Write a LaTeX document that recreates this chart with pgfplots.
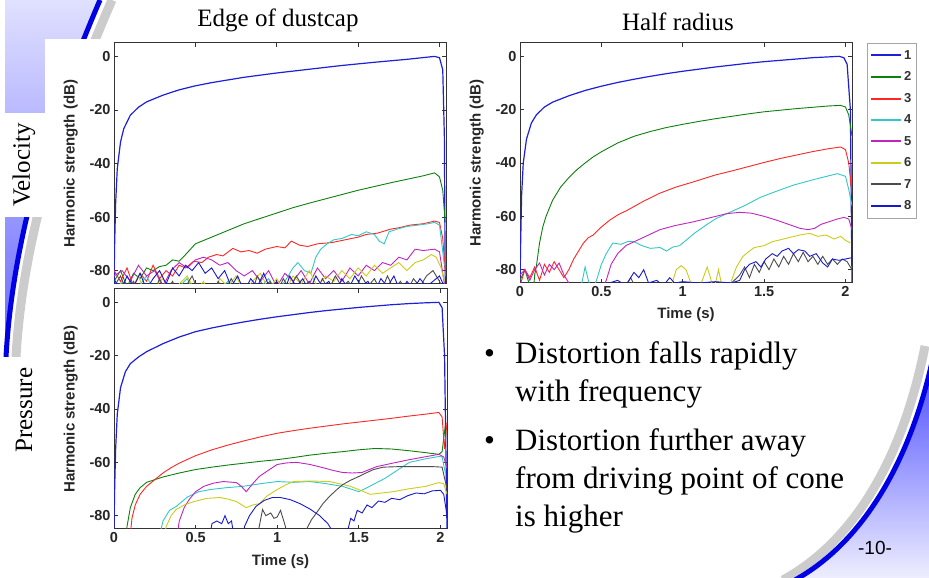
\documentclass[border=0pt]{standalone}
\usepackage{fontspec}
\setmainfont{Liberation Serif}
\setsansfont{Liberation Sans}
\usepackage{pgfplots}
\pgfplotsset{compat=1.18}

\definecolor{c1}{rgb}{0.12,0.12,0.85}
\definecolor{c2}{rgb}{0.05,0.5,0.05}
\definecolor{c3}{rgb}{1,0.15,0.15}
\definecolor{c4}{rgb}{0.2,0.78,0.78}
\definecolor{c5}{rgb}{0.75,0.15,0.75}
\definecolor{c6}{rgb}{0.8,0.8,0.1}
\definecolor{c7}{rgb}{0.3,0.3,0.3}
\definecolor{c8}{rgb}{0.1,0.1,0.8}

\newcommand{\labfont}{\sffamily\bfseries\fontsize{15}{15}\selectfont}

\pgfplotsset{
  matlab/.style={
    scale only axis, anchor=south west,
    xmin=0, xmax=2.04, ymin=-85, ymax=5,
    xtick={0,0.5,1,1.5,2}, ytick={-80,-60,-40,-20,0},
    tick align=inside, tick pos=both, major tick length=4pt,
    axis line style={line width=1pt, black!80},
    every tick/.style={black!80, line width=0.8pt},
    /pgf/number format/assume math mode=true,
    tick label style={font=\sffamily\bfseries\fontsize{14.5}{14.5}\selectfont, black!85},
    ylabel={Harmonic strength (dB)},
    every axis y label/.style={at={(axis description cs:-0.13,0.5)}, rotate=90, anchor=center, font=\labfont, black!85},
    every axis x label/.style={at={(axis description cs:0.5,-0.135)}, anchor=center, font=\labfont, black!85},
    every axis plot/.append style={line width=0.9pt},
  }
}

\begin{document}
\begin{tikzpicture}
\path[use as bounding box] (0pt,0pt) rectangle (929pt,578pt);
\clip (0pt,0pt) rectangle (929pt,578pt);

% slide background and decorations
\begin{scope}[x=1pt,y=1pt]
\fill[white] (0,0) rectangle (929,578);
\shade[top color=blue!12, bottom color=blue!60] (5,578) -- (100,578) .. controls (45,450) and (12,330) .. (6,221) -- (5,221) -- cycle;
\draw[gray!40, line width=9pt] (112,578) .. controls (56,450) and (22,330) .. (16,221);
\draw[blue!90!black, line width=5pt] (100,578) .. controls (45,450) and (12,330) .. (6,221);
\fill[white] (45,0) rectangle (470,539);
\fill[white] (5,361) rectangle (45,465);
\fill[white] (0,0) rectangle (45,221);

\shade[shading angle=45, top color=blue!75, bottom color=blue!6] (935,230) .. controls (915,130) and (870,40) .. (795,-2) -- (935,-2) -- cycle;
\draw[gray!40, line width=9pt] (925,232) .. controls (905,130) and (860,40) .. (783,-2);
\draw[blue!90!black, line width=5pt] (935,230) .. controls (915,130) and (870,40) .. (795,-2);

\node at (278,558) {\fontsize{25}{25}\selectfont Edge of dustcap};
\node at (678,556) {\fontsize{25}{25}\selectfont Half radius};
\node[rotate=90] at (24,413) {\fontsize{25}{25}\selectfont Velocity};
\node[rotate=90] at (24,168) {\fontsize{25}{25}\selectfont Pressure};

\node[anchor=base west, inner sep=0] at (484,214) {\fontsize{31}{31}\selectfont\textbullet};
\node[anchor=base west, inner sep=0] at (515,214) {\fontsize{31}{31}\selectfont Distortion falls rapidly};
\node[anchor=base west, inner sep=0] at (515,176) {\fontsize{31}{31}\selectfont with frequency};
\node[anchor=base west, inner sep=0] at (484,127) {\fontsize{31}{31}\selectfont\textbullet};
\node[anchor=base west, inner sep=0] at (515,127) {\fontsize{31}{31}\selectfont Distortion further away};
\node[anchor=base west, inner sep=0] at (515,89) {\fontsize{31}{31}\selectfont from driving point of cone};
\node[anchor=base west, inner sep=0] at (515,51) {\fontsize{31}{31}\selectfont is higher};
\node at (875,30) {\sffamily\fontsize{19}{19}\selectfont -10-};
\end{scope}

% Velocity, edge of dustcap
\begin{axis}[matlab, at={(114pt,294pt)}, width=332pt, height=241pt, xticklabels={}]
\addplot[c1, line width=1.2pt] coordinates {(0,-85)(0.004,-70)(0.01,-55)(0.02,-42)(0.04,-32)(0.06,-27)(0.1,-22)(0.15,-19)(0.2,-17)(0.3,-14.5)(0.4,-12.5)(0.5,-11)(0.6,-9.8)(0.8,-7.8)(1.0,-6.2)(1.2,-4.8)(1.4,-3.4)(1.6,-2.2)(1.8,-1.1)(1.97,0)(2.0,-0.5)(2.02,-5)(2.03,-30)(2.035,-85)};
\addplot[c2] coordinates {(0,-84)(0.04,-80)(0.08,-86)(0.12,-81)(0.16,-83)(0.2,-79)(0.24,-80)(0.28,-78.5)(0.32,-78)(0.36,-76)(0.4,-76.5)(0.44,-74)(0.47,-72)(0.5,-70)(0.6,-67.5)(0.7,-65)(0.8,-62.5)(0.9,-60.5)(1.0,-58.5)(1.1,-56.5)(1.2,-54.8)(1.3,-53.2)(1.4,-51.6)(1.5,-50)(1.6,-48.6)(1.7,-47.2)(1.8,-45.9)(1.9,-44.6)(1.97,-43.5)(2.0,-45)(2.02,-50)(2.035,-62)};
\addplot[c3] coordinates {(0,-80)(0.04,-84)(0.08,-79)(0.12,-86)(0.16,-81)(0.2,-84)(0.24,-78)(0.28,-83)(0.32,-80)(0.36,-82)(0.4,-78)(0.44,-79)(0.49,-76.5)(0.54,-77)(0.58,-75)(0.63,-74)(0.67,-74.5)(0.73,-71.7)(0.78,-73)(0.83,-72.5)(0.88,-73.5)(0.93,-72)(1.0,-71)(1.05,-71.5)(1.09,-69)(1.14,-70.5)(1.19,-71)(1.25,-70)(1.34,-69.5)(1.42,-68.5)(1.5,-67.5)(1.55,-66.5)(1.62,-66)(1.7,-64.5)(1.75,-64)(1.82,-63)(1.9,-62.5)(1.97,-61.5)(2.0,-62)(2.02,-68)(2.035,-80)};
\addplot[c4] coordinates {(0,-88)(0.05,-84)(0.1,-90)(0.15,-86)(0.2,-82)(0.25,-88)(0.3,-85)(0.35,-90)(0.4,-86)(0.45,-83)(0.5,-89)(0.55,-85)(0.6,-90)(0.65,-87)(0.7,-84)(0.75,-89)(0.8,-86)(0.85,-90)(0.9,-86)(0.95,-83)(1.0,-88)(1.05,-84)(1.1,-79)(1.13,-77)(1.17,-80)(1.21,-81)(1.24,-75)(1.27,-72)(1.31,-70)(1.35,-68.5)(1.4,-68)(1.46,-66.5)(1.5,-67)(1.55,-65.5)(1.6,-66.5)(1.63,-69)(1.66,-70)(1.69,-65.5)(1.74,-64.5)(1.8,-63.5)(1.87,-63)(1.93,-62.5)(1.97,-62)(2.0,-63)(2.03,-78)};
\addplot[c5] coordinates {(0,-82)(0.05,-80)(0.1,-84)(0.15,-78)(0.2,-82)(0.25,-80)(0.3,-86)(0.35,-80)(0.4,-77)(0.45,-79)(0.5,-76)(0.55,-75)(0.6,-76)(0.65,-78)(0.7,-77)(0.75,-80)(0.8,-82)(0.85,-80)(0.9,-84)(0.95,-80)(1.0,-86)(1.05,-81)(1.1,-84)(1.15,-80)(1.2,-85)(1.25,-79)(1.3,-83)(1.35,-80)(1.4,-84)(1.45,-79)(1.5,-82)(1.55,-78)(1.6,-80)(1.65,-77)(1.7,-78)(1.75,-75)(1.8,-76)(1.85,-72)(1.9,-72.5)(1.97,-72)(2.0,-73)(2.03,-85)};
\addplot[c6] coordinates {(0,-90)(0.05,-84)(0.1,-88)(0.15,-82)(0.2,-90)(0.25,-86)(0.3,-83)(0.35,-89)(0.4,-85)(0.45,-82)(0.5,-88)(0.55,-84)(0.6,-90)(0.65,-83)(0.7,-86)(0.75,-82)(0.8,-88)(0.85,-84)(0.9,-81)(0.95,-87)(1.0,-83)(1.05,-88)(1.1,-82)(1.15,-85)(1.2,-80)(1.25,-86)(1.3,-82)(1.35,-84)(1.4,-80)(1.45,-83)(1.5,-79)(1.55,-82)(1.6,-78)(1.65,-81)(1.7,-79)(1.75,-77)(1.8,-80)(1.85,-77)(1.9,-76)(1.95,-74)(1.98,-75)(2.01,-79)(2.03,-84)};
\addplot[c7] coordinates {(0,-86)(0.04,-82)(0.08,-88)(0.12,-84)(0.16,-90)(0.2,-85)(0.24,-89)(0.28,-83)(0.32,-88)(0.36,-84)(0.4,-90)(0.44,-86)(0.48,-82)(0.52,-88)(0.56,-85)(0.6,-90)(0.64,-84)(0.68,-88)(0.72,-83)(0.76,-87)(0.8,-85)(0.84,-90)(0.88,-82)(0.92,-86)(0.96,-84)(1.0,-89)(1.04,-83)(1.08,-87)(1.12,-82)(1.16,-86)(1.2,-84)(1.24,-89)(1.28,-83)(1.32,-87)(1.36,-82)(1.4,-86)(1.44,-84)(1.48,-88)(1.52,-82)(1.56,-86)(1.6,-83)(1.64,-88)(1.68,-82)(1.72,-87)(1.76,-84)(1.8,-88)(1.84,-83)(1.88,-86)(1.92,-82)(1.96,-80)(2.0,-84)(2.03,-88)};
\addplot[c8] coordinates {(0,-83)(0.04,-88)(0.08,-82)(0.12,-86)(0.16,-81)(0.2,-87)(0.24,-83)(0.28,-80)(0.32,-85)(0.36,-79)(0.4,-82)(0.44,-78)(0.48,-80)(0.52,-77)(0.56,-81)(0.6,-79)(0.64,-83)(0.68,-80)(0.72,-86)(0.76,-82)(0.8,-88)(0.84,-83)(0.88,-86)(0.92,-81)(0.96,-87)(1.0,-84)(1.04,-89)(1.08,-82)(1.12,-86)(1.16,-83)(1.2,-88)(1.24,-82)(1.28,-86)(1.32,-84)(1.36,-89)(1.4,-83)(1.44,-87)(1.48,-82)(1.52,-86)(1.56,-84)(1.6,-88)(1.64,-83)(1.68,-86)(1.72,-82)(1.76,-88)(1.8,-84)(1.84,-87)(1.88,-83)(1.92,-86)(1.96,-84)(2.0,-82)(2.03,-86)};
\end{axis}

% Velocity, half radius
\begin{axis}[matlab, at={(520pt,295pt)}, width=332pt, height=240pt, xlabel={Time (s)},
  every axis x label/.style={at={(axis description cs:0.5,-0.13)}, anchor=center, font=\labfont, black!85},
  legend entries={1,2,3,4,5,6,7,8},
  legend style={at={(1.045,1)}, anchor=north west, draw=gray!70,
    font=\sffamily\bfseries\fontsize{13}{13}\selectfont, text=black!80,
    row sep=7pt, inner xsep=3pt, inner ysep=5pt, cells={anchor=west}},
  legend image code/.code={\draw[#1, line width=2pt] (0pt,0pt) -- (30pt,0pt);}]
\addplot[c1, line width=1.2pt] coordinates {(0,-85)(0.004,-70)(0.01,-52)(0.02,-40)(0.04,-31)(0.07,-25)(0.1,-22)(0.15,-19)(0.2,-17.2)(0.3,-14.8)(0.4,-12.8)(0.5,-11.2)(0.6,-9.8)(0.7,-8.6)(0.8,-7.5)(0.9,-6.5)(1.0,-5.6)(1.1,-4.8)(1.2,-4)(1.3,-3.3)(1.4,-2.6)(1.5,-2)(1.6,-1.5)(1.7,-1)(1.8,-0.5)(1.9,-0.2)(1.96,0)(1.99,-0.5)(2.01,-3)(2.03,-20)(2.04,-85)};
\addplot[c2] coordinates {(0,-84)(0.03,-80)(0.06,-86)(0.08,-90)(0.09,-82)(0.1,-79)(0.12,-70)(0.14,-64)(0.16,-60)(0.2,-54)(0.25,-49)(0.3,-45.5)(0.35,-42.5)(0.4,-40)(0.45,-37.7)(0.5,-35.8)(0.6,-32.5)(0.7,-30)(0.8,-28.2)(0.9,-26.7)(1.0,-25.5)(1.1,-24.4)(1.2,-23.4)(1.3,-22.5)(1.4,-21.6)(1.5,-20.8)(1.6,-20.2)(1.7,-19.6)(1.8,-19.1)(1.9,-18.6)(1.97,-18.4)(2.0,-19)(2.02,-22)(2.04,-30)};
\addplot[c3] coordinates {(0,-86)(0.03,-80)(0.06,-83)(0.09,-79)(0.12,-84)(0.15,-78)(0.18,-81)(0.21,-77)(0.24,-80)(0.27,-83)(0.3,-80)(0.33,-76)(0.36,-73)(0.39,-70)(0.42,-68)(0.45,-67)(0.5,-64)(0.55,-61.5)(0.6,-59.5)(0.66,-57.7)(0.76,-54.3)(0.86,-51.3)(0.96,-49)(1.07,-47)(1.2,-44.5)(1.3,-43)(1.4,-41.4)(1.5,-39.8)(1.6,-38.3)(1.7,-37)(1.8,-35.7)(1.9,-34.6)(1.97,-34)(2.0,-35)(2.02,-40)(2.04,-52)};
\addplot[c4] coordinates {(0,-90)(0.35,-90)(0.38,-85)(0.4,-79)(0.42,-84)(0.44,-88)(0.47,-84)(0.5,-78)(0.53,-74)(0.57,-70)(0.62,-70.5)(0.66,-69.5)(0.7,-69.5)(0.75,-71)(0.8,-72)(0.86,-71.7)(0.9,-73)(0.94,-71.5)(0.98,-71)(1.02,-69)(1.07,-66.4)(1.15,-63)(1.2,-61)(1.27,-59)(1.38,-56)(1.48,-52.8)(1.58,-50.5)(1.68,-48.3)(1.8,-46.3)(1.95,-44)(2.0,-45)(2.02,-50)(2.04,-56)};
\addplot[c5] coordinates {(0,-82)(0.03,-80)(0.06,-84)(0.09,-80)(0.12,-77.5)(0.15,-82)(0.18,-78)(0.21,-80)(0.24,-77.5)(0.27,-82)(0.3,-85)(0.35,-90)(0.4,-87)(0.45,-90)(0.5,-88)(0.53,-84)(0.56,-78)(0.6,-74)(0.65,-71)(0.72,-69)(0.79,-67)(0.86,-65)(0.95,-63.5)(1.07,-62)(1.17,-60.5)(1.27,-59)(1.35,-58.5)(1.42,-58.8)(1.5,-60)(1.58,-61.5)(1.65,-63)(1.72,-64.5)(1.77,-65)(1.81,-64.5)(1.85,-63)(1.9,-62)(1.95,-61)(1.99,-60.4)(2.02,-61)(2.04,-65)};
\addplot[c6] coordinates {(0,-92)(0.9,-92)(0.93,-86)(0.96,-80)(0.99,-78.5)(1.02,-80)(1.05,-85)(1.08,-90)(1.12,-84)(1.15,-79)(1.17,-83)(1.19,-88)(1.22,-80)(1.24,-86)(1.27,-90)(1.3,-84)(1.33,-79)(1.37,-75)(1.41,-73)(1.44,-71.7)(1.5,-71)(1.55,-69.5)(1.6,-68.8)(1.65,-68)(1.72,-67)(1.78,-66.4)(1.83,-67.5)(1.88,-67)(1.93,-68.5)(1.97,-67.5)(2.0,-69)(2.03,-70)};
\addplot[c7] coordinates {(0,-90)(0.6,-90)(0.65,-86)(0.68,-83)(0.72,-88)(1.25,-88)(1.3,-85)(1.35,-82)(1.38,-79)(1.41,-83)(1.44,-78)(1.47,-81)(1.5,-77)(1.53,-80)(1.56,-76)(1.59,-79)(1.62,-75)(1.65,-78)(1.68,-74)(1.71,-77)(1.74,-73.5)(1.77,-77)(1.8,-75)(1.83,-78)(1.86,-75)(1.89,-78)(1.92,-76)(1.95,-78)(1.98,-76)(2.01,-77)(2.04,-80)};
\addplot[c8] coordinates {(0,-90)(0.5,-90)(0.55,-85)(0.6,-84)(0.65,-86)(0.7,-81)(0.73,-83)(0.76,-80)(0.79,-85)(0.84,-84)(0.88,-86)(0.92,-83)(0.95,-85)(1.0,-84.5)(1.1,-85)(1.2,-84.5)(1.3,-85)(1.35,-84)(1.38,-80)(1.41,-78)(1.45,-77)(1.48,-79)(1.51,-76)(1.55,-74)(1.58,-75)(1.61,-73)(1.65,-72)(1.68,-74)(1.71,-72.5)(1.75,-73)(1.78,-75)(1.82,-74)(1.86,-77.5)(1.89,-79)(1.92,-76)(1.96,-76.5)(2.0,-76)(2.04,-75.5)};
\end{axis}

% Pressure, edge of dustcap
\begin{axis}[matlab, at={(114pt,49pt)}, width=333pt, height=240pt, xlabel={Time (s)}]
\addplot[c1, line width=1.2pt] coordinates {(0,-85)(0.004,-70)(0.01,-55)(0.02,-42)(0.04,-32)(0.07,-26)(0.1,-23)(0.15,-20.5)(0.2,-18.5)(0.3,-15.5)(0.4,-13)(0.5,-11)(0.6,-9.6)(0.7,-8.4)(0.8,-7.3)(0.9,-6.3)(1.0,-5.4)(1.1,-4.6)(1.2,-3.8)(1.3,-3.1)(1.4,-2.5)(1.5,-1.9)(1.6,-1.4)(1.7,-0.9)(1.8,-0.5)(1.9,-0.2)(1.99,0)(2.01,-2)(2.025,-20)(2.04,-85)};
\addplot[c2] coordinates {(0.07,-90)(0.08,-84)(0.1,-77)(0.13,-72)(0.16,-69.5)(0.2,-67.5)(0.25,-66.5)(0.3,-65.5)(0.4,-64)(0.5,-62.7)(0.6,-61.8)(0.7,-61)(0.8,-60.3)(0.9,-59.6)(1.0,-59)(1.1,-58.2)(1.2,-57.3)(1.3,-56.6)(1.4,-56)(1.5,-55.3)(1.6,-54.8)(1.7,-55)(1.8,-55.6)(1.9,-56.3)(1.99,-57)(2.01,-56)(2.03,-46)};
\addplot[c3] coordinates {(0.095,-90)(0.11,-81)(0.13,-76)(0.16,-72)(0.2,-69)(0.25,-66.5)(0.3,-64)(0.35,-62)(0.4,-60.3)(0.5,-57.5)(0.6,-55.3)(0.7,-53.5)(0.8,-51.9)(0.9,-50.4)(1.0,-49.1)(1.1,-48.1)(1.2,-47.2)(1.3,-46.4)(1.4,-45.6)(1.5,-44.9)(1.6,-44.2)(1.7,-43.5)(1.8,-42.7)(1.9,-42)(1.99,-41.3)(2.01,-43)(2.025,-55)(2.04,-45)};
\addplot[c4] coordinates {(0.27,-90)(0.3,-82)(0.34,-78)(0.38,-76.6)(0.45,-73)(0.52,-71)(0.59,-70.2)(0.69,-69.5)(0.79,-69)(0.9,-68)(1.0,-67.2)(1.1,-67.5)(1.2,-67.2)(1.3,-68)(1.4,-69)(1.45,-70)(1.5,-71)(1.55,-69.5)(1.61,-67.6)(1.66,-66)(1.71,-64)(1.76,-62)(1.81,-60)(1.9,-58.8)(1.99,-57.8)(2.01,-58)(2.03,-64)};
\addplot[c5] coordinates {(0.38,-90)(0.4,-82)(0.43,-77)(0.46,-74)(0.5,-71)(0.55,-69)(0.61,-67.8)(0.67,-67.2)(0.75,-67.6)(0.78,-69)(0.81,-71)(0.85,-68)(0.89,-65.3)(0.95,-62.8)(1.0,-60.8)(1.06,-60.2)(1.12,-60)(1.2,-60.8)(1.28,-62)(1.34,-63)(1.4,-63.8)(1.46,-64)(1.52,-63.8)(1.56,-62.8)(1.61,-61.6)(1.7,-60.4)(1.81,-59)(1.9,-58)(1.99,-57)(2.02,-58)(2.04,-62)};
\addplot[c6] coordinates {(0.3,-90)(0.32,-84)(0.35,-80)(0.38,-77.7)(0.43,-76)(0.49,-74.7)(0.57,-73.5)(0.65,-73.2)(0.7,-73.8)(0.75,-74.7)(0.81,-77)(0.85,-76)(0.89,-75.5)(0.94,-72.5)(1.0,-70.2)(1.05,-68.5)(1.1,-67.2)(1.2,-67)(1.32,-67.2)(1.38,-68)(1.45,-69)(1.51,-70.5)(1.57,-72)(1.64,-71.5)(1.71,-71)(1.8,-70)(1.91,-69)(1.99,-67.6)(2.02,-68)(2.04,-72)};
\addplot[c7] coordinates {(0.87,-90)(0.89,-84)(0.91,-77.7)(0.93,-80)(0.96,-79)(0.98,-81)(1.0,-80.5)(1.02,-78)(1.05,-84)(1.07,-90)(1.15,-90)(1.18,-85)(1.21,-81.5)(1.24,-79)(1.28,-75.5)(1.32,-72.8)(1.36,-70.5)(1.4,-68.4)(1.45,-66.7)(1.5,-65.3)(1.55,-63.8)(1.59,-62.7)(1.65,-61.8)(1.75,-61.6)(1.85,-61.6)(1.95,-61.6)(2.01,-61.8)(2.04,-70)};
\addplot[c8] coordinates {(0.58,-90)(0.6,-83)(0.63,-82)(0.66,-83)(0.68,-80)(0.7,-83)(0.72,-82)(0.74,-90)(0.78,-90)(0.8,-84)(0.83,-80)(0.87,-76.5)(0.92,-74.3)(0.97,-73.2)(1.02,-73.2)(1.08,-74)(1.14,-75.5)(1.2,-77.5)(1.26,-80)(1.31,-83)(1.35,-87)(1.4,-90)(1.43,-86)(1.45,-81)(1.47,-82)(1.49,-78)(1.52,-79)(1.55,-76)(1.58,-77)(1.62,-74.5)(1.66,-75)(1.7,-73.5)(1.75,-74)(1.8,-72.5)(1.85,-71.5)(1.9,-71.8)(1.95,-70.7)(2.0,-70.5)(2.02,-72)(2.04,-80)};
\end{axis}
\end{tikzpicture}
\end{document}
